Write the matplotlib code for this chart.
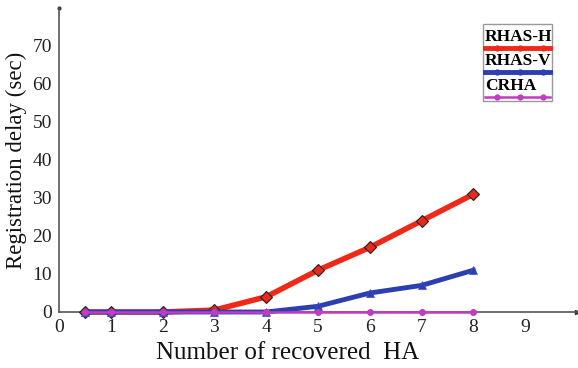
import matplotlib
matplotlib.use("Agg")
import matplotlib.pyplot as plt
from matplotlib.lines import Line2D
from matplotlib.patches import Rectangle

# data
x_ha = [0.5, 1, 2, 3, 4, 5, 6, 7, 8]
rhas_h = [0, 0, 0, 0.5, 4, 11, 17, 24, 31]
rhas_v = [0, 0, 0, 0, 0, 1.5, 5, 7, 11]
crha = [0, 0, 0, 0, 0, 0, 0, 0, 0]
xticks = list(range(0, 10))
yticks = list(range(0, 80, 10))

plt.rcParams['font.family'] = ['Liberation Serif', 'DejaVu Serif']

fig = plt.figure(figsize=(5.78, 3.68), dpi=100)
ax = fig.add_axes([59/578, 56/368, 518/578, 304/368])

ax.plot(x_ha, rhas_h, color='#f02818', lw=4, marker='D', ms=6,
        mfc='#e8281c', mec='#222222', mew=0.8, zorder=3, clip_on=False)
ax.plot(x_ha, rhas_v, color='#2b3fb0', lw=3.5, marker='^', ms=6,
        mfc='#2b3fb0', mec='#3a4fd0', mew=0.5, zorder=4, clip_on=False)
ax.plot(x_ha, crha, color='#c03cc0', lw=1.8, marker='o', ms=4,
        mfc='#c03cc0', mec='#c03cc0', zorder=5, clip_on=False)

ax.set_xlim(0, 10)
ax.set_ylim(0, 80)
ax.set_xticks(xticks)
ax.set_yticks(yticks)
ax.tick_params(length=0, labelsize=14, colors='#222222')
ax.tick_params(axis='x', pad=5)
ax.tick_params(axis='y', pad=5)
for s in ['top', 'right']:
    ax.spines[s].set_visible(False)
for s in ['left', 'bottom']:
    ax.spines[s].set_color('#555555')
    ax.spines[s].set_linewidth(1.2)
# axis arrows
ax.plot(1, 0, '>', color='#333333', ms=3, transform=ax.transAxes, clip_on=False)
ax.plot(0, 1, 'o', color='#333333', ms=2, transform=ax.transAxes, clip_on=False)

ax.set_xlabel('Number of recovered  HA', fontsize=18, labelpad=6, color='#111111')
ax.xaxis.set_label_coords((288 - 59) / 518, -0.1)
ax.set_ylabel('Registration delay (sec)', fontsize=16.5, labelpad=4, color='#111111')

# legend: label above its line, inside a grey box
fx = lambda px: (px - 59) / 518
fy = lambda py: (312 - py) / 304
ax.add_patch(Rectangle((fx(483), fy(101)), fx(552) - fx(483), fy(24) - fy(101),
                       transform=ax.transAxes, fill=True, fc='white',
                       ec='#999999', lw=1, zorder=6, clip_on=False))
entries = [('RHAS-H', '#f02818', 3.5, 48), ('RHAS-V', '#2b3fb0', 3.5, 72),
           ('CRHA', '#c03cc0', 1.8, 97)]
for label, col, lw, py in entries:
    ax.text(fx(485), fy(py - 3), label, transform=ax.transAxes, fontsize=12.5,
            fontweight='bold', ha='left', va='bottom', zorder=7)
    xs = [fx(p) for p in (485, 497, 520, 543, 550)]
    ax.add_line(Line2D(xs, [fy(py)] * 5, color=col, lw=lw,
                       marker='o', ms=3.5, markevery=[1, 2, 3],
                       transform=ax.transAxes, zorder=7, clip_on=False))

fig.savefig('out.png', dpi=100)
